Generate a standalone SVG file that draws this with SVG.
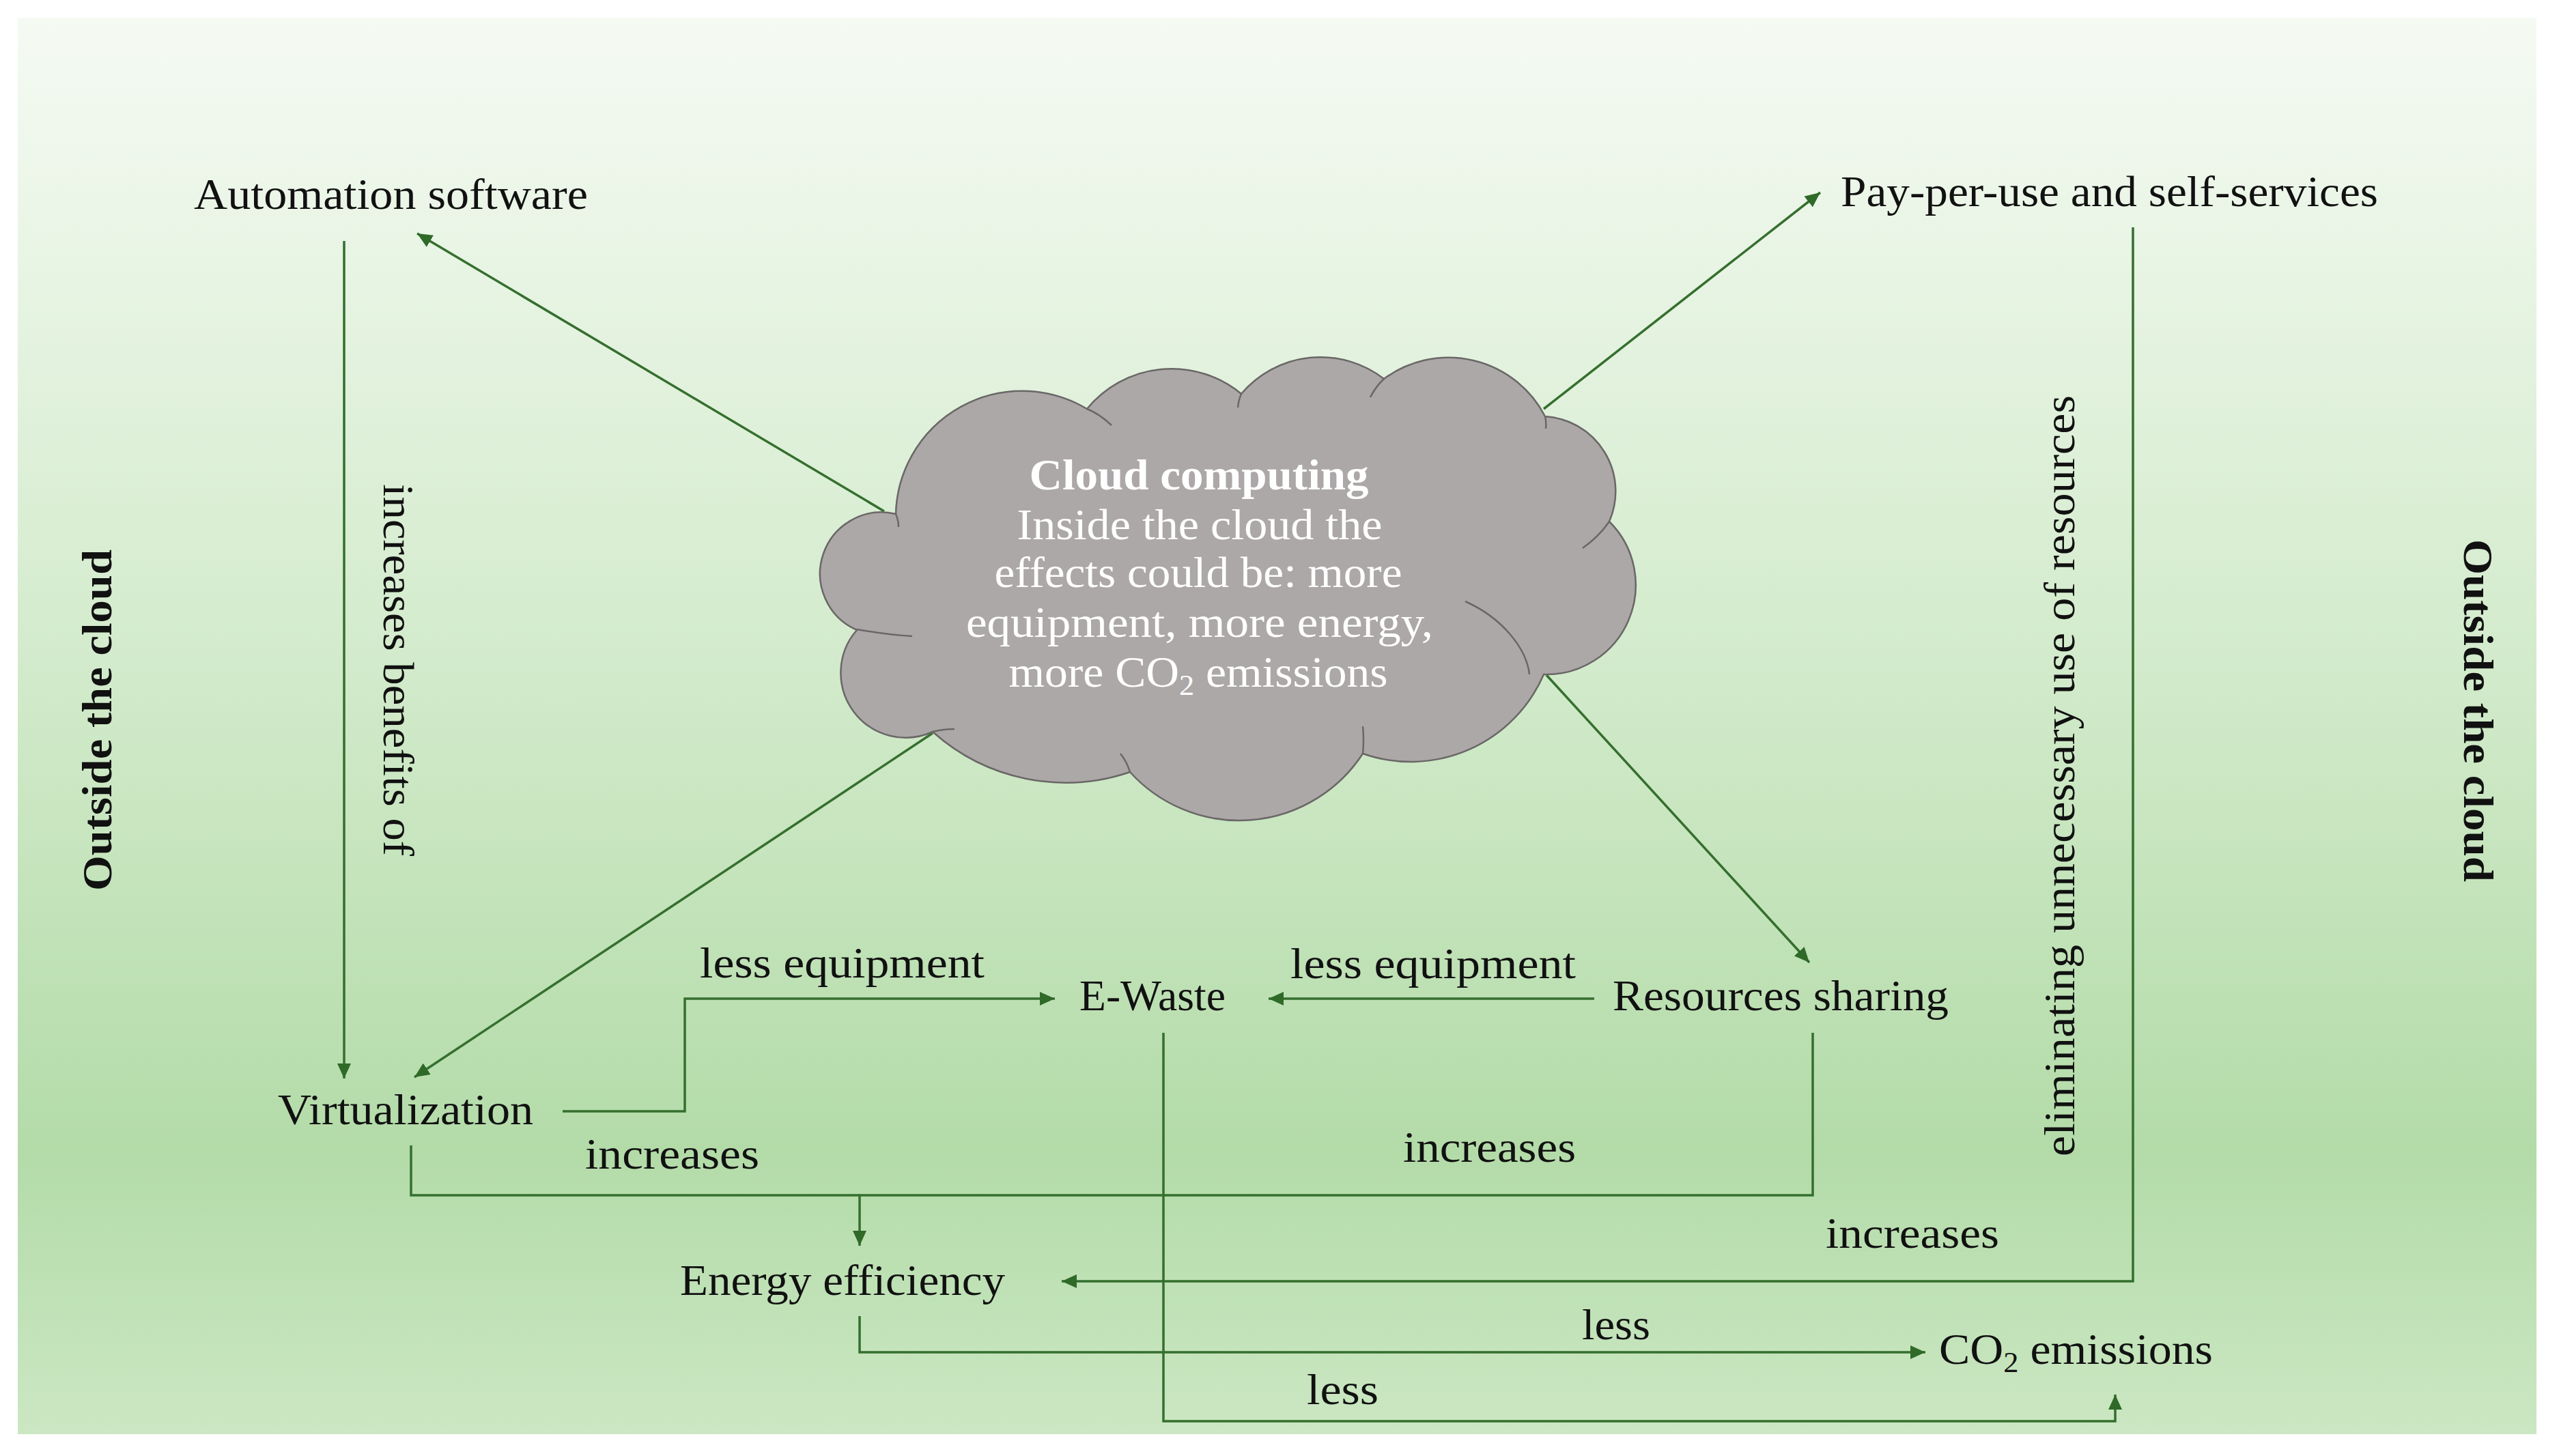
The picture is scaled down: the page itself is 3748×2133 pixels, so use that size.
<svg xmlns="http://www.w3.org/2000/svg" width="3748" height="2133" viewBox="0 0 3748 2133">
<defs>
<linearGradient id="bg" x1="0" y1="0" x2="0" y2="1">
<stop offset="0" stop-color="#f5faf3"/>
<stop offset="0.45" stop-color="#d3ebcc"/>
<stop offset="0.8" stop-color="#b3dba8"/>
<stop offset="1" stop-color="#cbe7c3"/>
</linearGradient>
<marker id="ah" markerUnits="userSpaceOnUse" markerWidth="24" markerHeight="20" refX="22" refY="10" orient="auto">
<path d="M0,0 L22,10 L0,20 z" fill="#2f6a28"/>
</marker>
<style>
.lbl{font-family:"Liberation Serif","DejaVu Serif",serif;font-size:64px;fill:#111;}
.side{font-family:"Liberation Serif","DejaVu Serif",serif;font-size:62px;font-weight:bold;fill:#111;}
.ct{font-family:"Liberation Serif","DejaVu Serif",serif;font-size:64px;fill:#fff;text-anchor:middle;}
.cn{fill:none;stroke:#356f2e;stroke-width:3.5;}
.ar{marker-end:url(#ah);}
.cloud{fill:#aca8a7;stroke:#6a6767;stroke-width:2.5;}
.inner{fill:none;stroke:#6a6767;stroke-width:2.5;}
</style>
</defs>
<rect x="0" y="0" width="3748" height="2133" fill="#ffffff"/>
<rect x="26" y="26" width="3689" height="2075" fill="url(#bg)"/>

<g id="connectors">
<line class="cn ar" x1="1295" y1="749" x2="611" y2="342"/>
<line class="cn ar" x1="504" y1="353" x2="504" y2="1580"/>
<line class="cn ar" x1="1366" y1="1074" x2="607" y2="1578"/>
<line class="cn ar" x1="2261" y1="599" x2="2666" y2="282"/>
<line class="cn ar" x1="2265" y1="989" x2="2650" y2="1410"/>
<polyline class="cn ar" points="824,1628 1003,1628 1003,1463 1545,1463"/>
<line class="cn ar" x1="2335" y1="1463" x2="1858" y2="1463"/>
<polyline class="cn" points="602,1678 602,1751 1259,1751"/>
<polyline class="cn ar" points="2655,1513 2655,1751 1259,1751 1259,1825"/>
<polyline class="cn ar" points="3124,333 3124,1877 1555,1877"/>
<polyline class="cn ar" points="1259,1928 1259,1981 2820,1981"/>
<polyline class="cn ar" points="1704,1513 1704,2082 3098,2082 3098,2043"/>
</g>

<g id="cloud">
<path class="cloud" d="M1312 753 A185 185 0 0 1 1592 599 A160 160 0 0 1 1818 577 A152 152 0 0 1 2027 555 A159 159 0 0 1 2263 610 A110 110 0 0 1 2357 764 A131 131 0 0 1 2261 988 A212 212 0 0 1 1996 1104 A216 216 0 0 1 1655 1131 A292 292 0 0 1 1366 1072 A95 95 0 0 1 1255 923 A90 90 0 0 1 1312 753 Z"/>
<path class="inner" d="M1592 599 Q1610 606 1628 623 M1818 577 Q1814 586 1813 597 M2027 555 Q2015 566 2007 582 M2263 610 Q2265 618 2264 628 M2357 764 Q2342 786 2318 803 M2240 988 C2236 950 2200 905 2146 881 M1996 1104 Q1998 1085 1996 1064 M1655 1131 Q1650 1115 1641 1104 M1366 1072 Q1382 1068 1398 1068 M1255 922 Q1300 930 1336 932 M1312 753 Q1316 762 1316 772"/>
<text class="ct" x="1756" y="717" font-weight="bold" textLength="497" lengthAdjust="spacingAndGlyphs">Cloud computing</text>
<text class="ct" x="1757" y="790" textLength="535" lengthAdjust="spacingAndGlyphs">Inside the cloud the</text>
<text class="ct" x="1755" y="860" textLength="597" lengthAdjust="spacingAndGlyphs">effects could be: more</text>
<text class="ct" x="1757" y="933" textLength="684" lengthAdjust="spacingAndGlyphs">equipment, more energy,</text>
<text class="ct" x="1755" y="1006" textLength="555" lengthAdjust="spacingAndGlyphs">more CO<tspan font-size="42" dy="12">2</tspan><tspan dy="-12"> emissions</tspan></text>
</g>

<g id="automation"><text class="lbl" x="284" y="306" textLength="577" lengthAdjust="spacingAndGlyphs">Automation software</text></g>
<g id="payperuse"><text class="lbl" x="2696" y="302" textLength="787" lengthAdjust="spacingAndGlyphs">Pay-per-use and self-services</text></g>
<g id="virtualization"><text class="lbl" x="407" y="1647" textLength="374" lengthAdjust="spacingAndGlyphs">Virtualization</text></g>
<g id="ewaste"><text class="lbl" x="1581" y="1480" textLength="214" lengthAdjust="spacingAndGlyphs">E-Waste</text></g>
<g id="resources"><text class="lbl" x="2362" y="1480" textLength="492" lengthAdjust="spacingAndGlyphs">Resources sharing</text></g>
<g id="energy"><text class="lbl" x="996" y="1897" textLength="476" lengthAdjust="spacingAndGlyphs">Energy efficiency</text></g>
<g id="co2"><text class="lbl" x="2840" y="1998" textLength="401" lengthAdjust="spacingAndGlyphs">CO<tspan font-size="42" dy="12">2</tspan><tspan dy="-12"> emissions</tspan></text></g>
<g id="outside-left"><text class="side" transform="translate(163,1305) rotate(-90)" textLength="500" lengthAdjust="spacingAndGlyphs">Outside the cloud</text></g>
<g id="outside-right"><text class="side" transform="translate(3609,790) rotate(90)" textLength="502" lengthAdjust="spacingAndGlyphs">Outside the cloud</text></g>

<g id="labels">
<text class="lbl" transform="translate(562,709) rotate(90)" textLength="545" lengthAdjust="spacingAndGlyphs">increases benefits of</text>
<text class="lbl" transform="translate(3038,1694) rotate(-90)" textLength="1115" lengthAdjust="spacingAndGlyphs">eliminating unnecessary use of resources</text>
<text class="lbl" x="1025" y="1432" textLength="417" lengthAdjust="spacingAndGlyphs">less equipment</text>
<text class="lbl" x="1890" y="1433" textLength="418" lengthAdjust="spacingAndGlyphs">less equipment</text>
<text class="lbl" x="857" y="1712" textLength="255" lengthAdjust="spacingAndGlyphs">increases</text>
<text class="lbl" x="2055" y="1702" textLength="253" lengthAdjust="spacingAndGlyphs">increases</text>
<text class="lbl" x="2674" y="1828" textLength="254" lengthAdjust="spacingAndGlyphs">increases</text>
<text class="lbl" x="2317" y="1962" textLength="100" lengthAdjust="spacingAndGlyphs">less</text>
<text class="lbl" x="1914" y="2057" textLength="105" lengthAdjust="spacingAndGlyphs">less</text>
</g>
</svg>
